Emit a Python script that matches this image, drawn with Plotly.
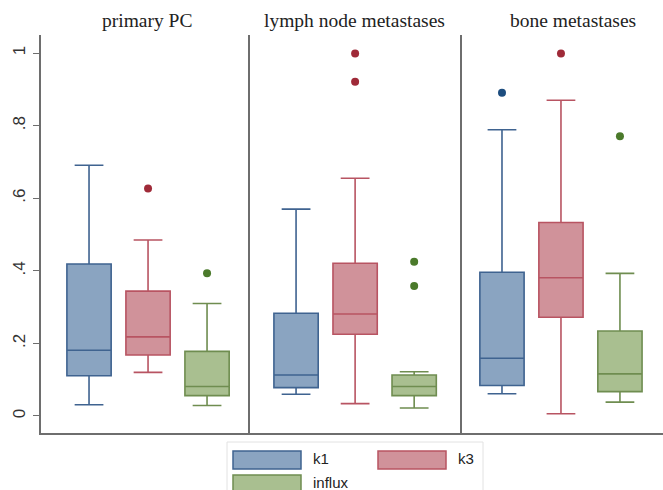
import plotly.graph_objects as go

panels = ["primary PC", "lymph node metastases", "bone metastases"]
series = ["k1", "k3", "influx"]

# per panel, per series: [lower whisker, q1, median, q3, upper whisker]
stats = {
    "primary PC": {
        "k1":     [0.031, 0.111, 0.181, 0.419, 0.691],
        "k3":     [0.120, 0.168, 0.218, 0.344, 0.485],
        "influx": [0.029, 0.056, 0.081, 0.178, 0.310],
    },
    "lymph node metastases": {
        "k1":     [0.060, 0.078, 0.113, 0.283, 0.570],
        "k3":     [0.034, 0.225, 0.281, 0.421, 0.655],
        "influx": [0.022, 0.056, 0.081, 0.113, 0.122],
    },
    "bone metastases": {
        "k1":     [0.061, 0.084, 0.159, 0.396, 0.789],
        "k3":     [0.006, 0.272, 0.381, 0.533, 0.870],
        "influx": [0.038, 0.067, 0.116, 0.234, 0.393],
    },
}
outliers = {
    "primary PC": {"k1": [], "k3": [0.627], "influx": [0.393]},
    "lymph node metastases": {"k1": [], "k3": [0.999, 0.921], "influx": [0.425, 0.358]},
    "bone metastases": {"k1": [0.891], "k3": [0.999], "influx": [0.771]},
}

ytick_vals = [0, 0.2, 0.4, 0.6, 0.8, 1]
ytick_text = ["0", ".2", ".4", ".6", ".8", "1"]

fill = {"k1": "#8aa4c1", "k3": "#d0929a", "influx": "#a9bf90"}
edge = {"k1": "#3f6390", "k3": "#b85462", "influx": "#6f8d50"}
dot = {"k1": "#1d4d7f", "k3": "#9f2a38", "influx": "#4b7a2b"}

W, H = 663, 490
ml, mr, mt, mb = 41, 0, 35, 57
pw = W - ml - mr
ph = H - mt - mb
px_bounds = [41, 250, 462, 663]
domains = [[(px_bounds[i] - ml) / pw, (px_bounds[i + 1] - ml) / pw] for i in range(3)]
xranges = [[-0.814, 2.728], [-0.78, 2.81], [-0.678, 2.73]]

fig = go.Figure()
for pi, p in enumerate(panels):
    xa = "x" if pi == 0 else f"x{pi+1}"
    ya = "y" if pi == 0 else f"y{pi+1}"
    for si, s in enumerate(series):
        lo, q1, med, q3, hi = stats[p][s]
        fig.add_trace(go.Box(
            x=[si], q1=[q1], median=[med], q3=[q3], lowerfence=[lo], upperfence=[hi],
            width=0.75, whiskerwidth=0.65, boxpoints=False,
            fillcolor=fill[s], line=dict(color=edge[s], width=1.6),
            xaxis=xa, yaxis=ya, showlegend=False, name=s,
        ))
        if outliers[p][s]:
            fig.add_trace(go.Scatter(
                x=[si] * len(outliers[p][s]), y=outliers[p][s], mode="markers",
                marker=dict(color=dot[s], size=8), xaxis=xa, yaxis=ya, showlegend=False,
            ))

yr = [-0.047, 1.05]
axis_line = "#6e6e6e"
layout = dict(
    width=W, height=H, margin=dict(l=ml, r=mr, t=mt, b=mb),
    paper_bgcolor="white", plot_bgcolor="white", showlegend=False,
)
for pi in range(3):
    sfx = "" if pi == 0 else str(pi + 1)
    layout[f"xaxis{sfx}"] = dict(
        domain=domains[pi], range=xranges[pi], showticklabels=False, ticks="",
        showgrid=False, zeroline=False, showline=True, linecolor=axis_line, linewidth=1.5,
        anchor=f"y{sfx}",
    )
    ya = dict(
        range=yr, showgrid=False, zeroline=False, showline=True, linecolor=axis_line,
        linewidth=1.5, anchor=f"x{sfx}",
    )
    if pi == 0:
        ya.update(tickvals=ytick_vals, ticktext=ytick_text, ticks="outside", ticklen=6,
                  tickcolor=axis_line, tickwidth=1.3, tickangle=-90, ticklabelstandoff=1,
                  tickfont=dict(family="Liberation Sans", size=17, color="#333333"))
    else:
        ya.update(showticklabels=False, ticks="", matches="y")
    layout[f"yaxis{sfx}"] = ya
fig.update_layout(**layout)

# panel titles
title_centers = [147, 355, 573]
for pi, p in enumerate(panels):
    fig.add_annotation(
        x=(title_centers[pi] - ml) / pw, y=(433 - 21) / ph,
        xref="paper", yref="paper", text=p, showarrow=False,
        xanchor="center", yanchor="middle",
        font=dict(family="Liberation Serif", size=19.5, color="#222222"),
    )

# legend (drawn)
def px2x(px):
    return (px - ml) / pw

def py2y(py):
    return (433 - py) / ph

fig.add_shape(type="rect", xref="paper", yref="paper",
              x0=px2x(227), x1=px2x(483), y0=py2y(500), y1=py2y(442),
              line=dict(color="#e2e2e2", width=1), fillcolor="white", layer="below")
leg = [("k1", 233, 451), ("k3", 378, 451), ("influx", 233, 475)]
for s, lx, ly in leg:
    fig.add_shape(type="rect", xref="paper", yref="paper",
                  x0=px2x(lx), x1=px2x(lx + 68), y0=py2y(ly + 18), y1=py2y(ly),
                  line=dict(color=edge[s], width=1.5), fillcolor=fill[s])
    fig.add_annotation(x=px2x(lx + 78), y=py2y(ly + 7), xref="paper", yref="paper",
                       text=s, showarrow=False, xanchor="left", yanchor="middle",
                       font=dict(family="Liberation Sans", size=15, color="#222222"))

fig.write_html("out.html", config={"displayModeBar": False},
               post_script="document.body.style.margin='0';document.body.style.overflow='hidden';")
